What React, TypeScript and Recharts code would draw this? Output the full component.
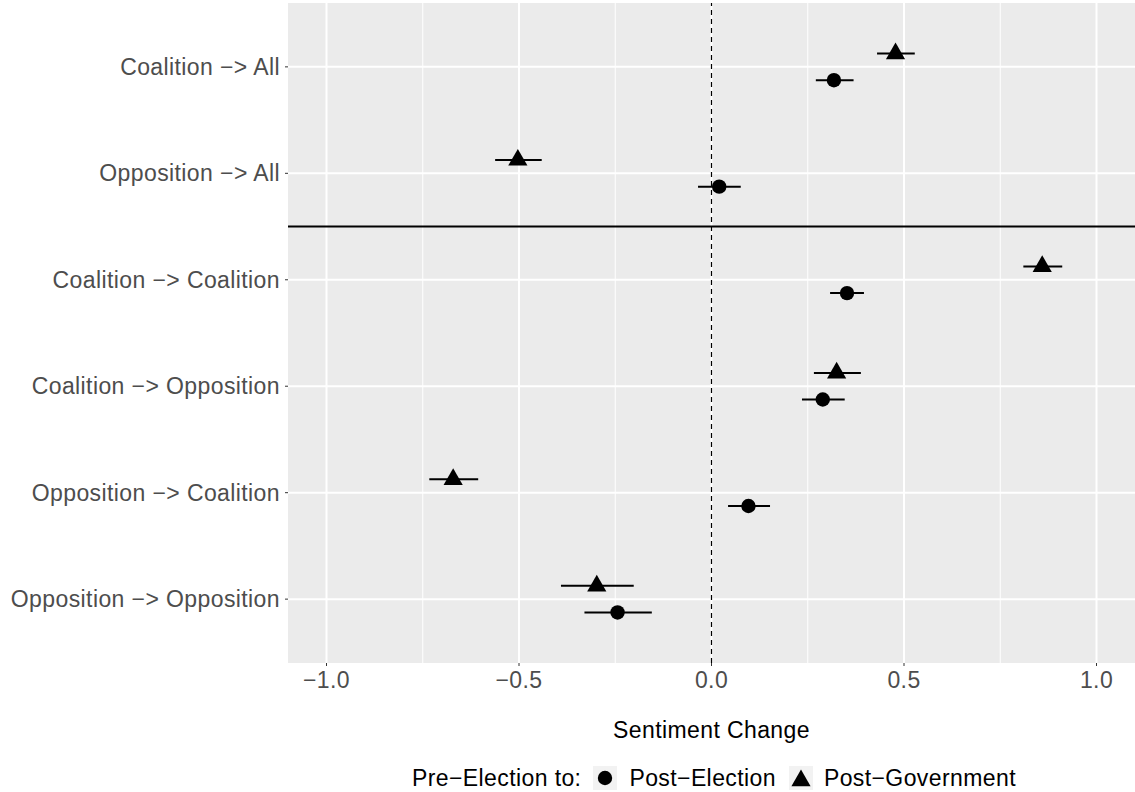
import {
  CartesianGrid,
  ErrorBar,
  ReferenceLine,
  Scatter,
  ScatterChart,
  XAxis,
  YAxis,
} from "recharts";

const CATEGORIES = [
  "Coalition −> All",
  "Opposition −> All",
  "Coalition −> Coalition",
  "Coalition −> Opposition",
  "Opposition −> Coalition",
  "Opposition −> Opposition",
];

// Pre-Election to Post-Election (circles)
const ELECTION_EST = [0.318, 0.02, 0.352, 0.289, 0.096, -0.244];
const ELECTION_LOW = [0.271, -0.035, 0.308, 0.235, 0.043, -0.33];
const ELECTION_HIGH = [0.369, 0.076, 0.396, 0.346, 0.152, -0.155];

// Pre-Election to Post-Government (triangles)
const GOVERNMENT_EST = [0.478, -0.503, 0.859, 0.325, -0.671, -0.298];
const GOVERNMENT_LOW = [0.43, -0.562, 0.81, 0.266, -0.733, -0.391];
const GOVERNMENT_HIGH = [0.528, -0.441, 0.911, 0.388, -0.606, -0.202];

const X_TICKS = [-1, -0.5, 0, 0.5, 1];
const X_MINOR = [-0.75, -0.25, 0.25, 0.75];
const Y_TICKS = [1, 2, 3, 4, 5, 6];

const DODGE = 0.125;
const FONT = "'Liberation Sans', Arial, Helvetica, sans-serif";
const PANEL_BG = "#EBEBEB";
const TEXT_GREY = "#4D4D4D";

function buildRows(est: number[], low: number[], high: number[], shift: number) {
  return est.map((v, i) => ({
    x: v,
    y: i + 1 + shift,
    err: [v - low[i], high[i] - v],
  }));
}

const electionRows = buildRows(ELECTION_EST, ELECTION_LOW, ELECTION_HIGH, DODGE);
const governmentRows = buildRows(GOVERNMENT_EST, GOVERNMENT_LOW, GOVERNMENT_HIGH, -DODGE);

function formatX(v: number): string {
  const s = Math.abs(v).toFixed(1);
  return v < 0 ? "−" + s : s;
}

function CircleMark(props: any) {
  return <circle cx={props.cx} cy={props.cy} r={7.2} fill="#000" />;
}

function TriangleMark(props: any) {
  const { cx, cy } = props;
  const half = 9.6;
  return (
    <polygon
      points={`${cx},${cy - 11.1} ${cx - half},${cy + 5.6} ${cx + half},${cy + 5.6}`}
      fill="#000"
    />
  );
}

function LegendKey({ kind }: { kind: "circle" | "triangle" }) {
  return (
    <svg width={24} height={24} style={{ background: "#F2F2F2", display: "block" }}>
      {kind === "circle" ? (
        <circle cx={12} cy={12} r={7.2} fill="#000" />
      ) : (
        <polygon points="12,3.5 2.4,20.2 21.6,20.2" fill="#000" />
      )}
    </svg>
  );
}

export default function App() {
  const tickStyle = {
    fill: TEXT_GREY,
    fontSize: 23,
    fontFamily: FONT,
    letterSpacing: 0.4,
  };

  return (
    <div
      style={{
        position: "absolute",
        left: 0,
        top: 0,
        width: 1135,
        height: 792,
        background: "#fff",
        fontFamily: FONT,
      }}
    >
      <ScatterChart
        width={1135}
        height={792}
        margin={{ top: 3, right: 0, bottom: 0, left: 0 }}
      >
        <CartesianGrid
          fill={PANEL_BG}
          stroke="#fff"
          strokeWidth={1}
          horizontal={false}
          verticalValues={X_MINOR}
        />
        <CartesianGrid
          stroke="#fff"
          strokeWidth={2}
          verticalValues={X_TICKS}
          horizontalValues={Y_TICKS}
        />
        <XAxis
          type="number"
          dataKey="x"
          domain={[-1.1, 1.1]}
          ticks={X_TICKS}
          tickFormatter={formatX}
          allowDataOverflow
          height={129}
          axisLine={false}
          tickSize={3}
          tickMargin={6}
          tickLine={{ stroke: "#333", strokeWidth: 1 }}
          tick={tickStyle}
          label={{
            value: "Sentiment Change",
            position: "insideTop",
            offset: 59,
            fill: "#000",
            fontSize: 23,
            fontFamily: FONT,
            letterSpacing: 0.4,
          }}
        />
        <YAxis
          type="number"
          dataKey="y"
          domain={[0.4, 6.6]}
          reversed
          ticks={Y_TICKS}
          interval={0}
          tickFormatter={(v: number) => CATEGORIES[v - 1] ?? ""}
          width={288}
          axisLine={false}
          tickSize={3}
          tickMargin={5}
          tickLine={{ stroke: "#333", strokeWidth: 1 }}
          tick={tickStyle}
        />
        <ReferenceLine x={0} stroke="#000" strokeWidth={1.2} strokeDasharray="5 4" />
        <ReferenceLine y={2.5} stroke="#000" strokeWidth={2} />
        <Scatter
          name="Post−Election"
          data={electionRows}
          shape={CircleMark}
          isAnimationActive={false}
        >
          <ErrorBar
            dataKey="err"
            direction="x"
            width={0}
            stroke="#000"
            strokeWidth={2}
            isAnimationActive={false}
          />
        </Scatter>
        <Scatter
          name="Post−Government"
          data={governmentRows}
          shape={TriangleMark}
          isAnimationActive={false}
        >
          <ErrorBar
            dataKey="err"
            direction="x"
            width={0}
            stroke="#000"
            strokeWidth={2}
            isAnimationActive={false}
          />
        </Scatter>
      </ScatterChart>

      <div
        style={{
          position: "absolute",
          left: 412,
          top: 766,
          height: 24,
          display: "flex",
          alignItems: "center",
          fontSize: 23,
          letterSpacing: 0.4,
          color: "#000",
          whiteSpace: "nowrap",
        }}
      >
        <span style={{ marginRight: 12 }}>Pre−Election to:</span>
        <LegendKey kind="circle" />
        <span style={{ marginLeft: 12, marginRight: 13 }}>Post−Election</span>
        <LegendKey kind="triangle" />
        <span style={{ marginLeft: 11 }}>Post−Government</span>
      </div>
    </div>
  );
}
